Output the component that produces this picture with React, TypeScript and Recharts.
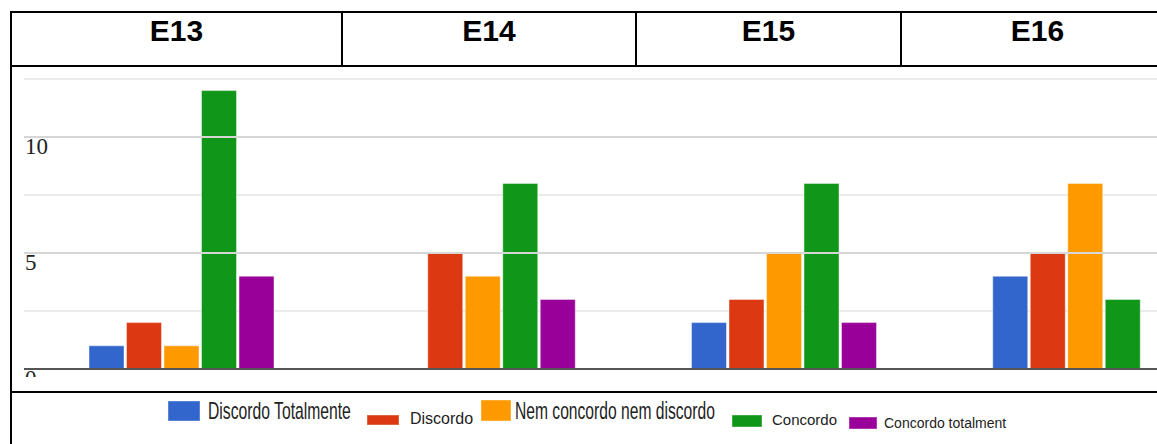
import { Bar, BarChart, CartesianGrid, ReferenceLine, XAxis, YAxis } from "recharts";

const categories = ["E13", "E14", "E15", "E16"];
const seriesNames = [
  "Discordo Totalmente",
  "Discordo",
  "Nem concordo nem discordo",
  "Concordo",
  "Concordo totalment",
];
const discordoTotalmente = [1, 0, 2, 4];
const discordo = [2, 5, 3, 5];
const nemConcordoNemDiscordo = [1, 4, 5, 8];
const concordo = [12, 8, 8, 3];
const concordoTotalmente = [4, 3, 2, 0];
const yTicks = [0, 2.5, 5, 7.5, 10, 12.5];
const yTickLabels = [0, 5, 10];
const yMajorLines = [5, 10];

const seriesValues = [
  discordoTotalmente,
  discordo,
  nemConcordoNemDiscordo,
  concordo,
  concordoTotalmente,
];
const colors = ["#3366cc", "#dc3912", "#ff9900", "#109618", "#990099"];

const data = categories.map((name, i) => {
  const row: Record<string, string | number> = { name };
  seriesValues.forEach((vals, s) => {
    row[`s${s}`] = vals[i];
  });
  return row;
});

// header cell widths (px), legend placement — pasted-table look
const headerWidths = [329, 294, 265, 273];
const legendLayout = [
  { box: [168, 9, 32, 20], x: 208, y: 27, size: 23, sx: 0.683 },
  { box: [367, 23, 32, 10], x: 410, y: 32, size: 16, sx: 1 },
  { box: [481, 8, 30, 21], x: 515, y: 27, size: 23, sx: 0.68 },
  { box: [732, 23, 30, 12], x: 772, y: 33, size: 15, sx: 1 },
  { box: [849, 25, 28, 12], x: 884, y: 36, size: 14, sx: 1 },
];

function YTick(props: any) {
  const { x, y, payload } = props;
  if (!yTickLabels.includes(payload.value)) return null;
  return (
    <text
      x={x + 1}
      y={y + 16.5}
      textAnchor="start"
      fontFamily="'Liberation Serif', serif"
      fontSize={23}
      fill="#222"
    >
      {payload.value}
    </text>
  );
}

export default function App() {
  return (
    <div
      style={{
        position: "absolute",
        left: 0,
        top: 0,
        width: 1157,
        height: 444,
        overflow: "hidden",
        background: "#fff",
      }}
    >
      {/* chart row */}
      <div
        style={{
          position: "absolute",
          left: 0,
          top: 66,
          width: 1157,
          height: 311,
          overflow: "hidden",
        }}
      >
        <BarChart
          width={1236}
          height={330}
          data={data}
          margin={{ top: 13, right: 0, bottom: 27, left: 0 }}
          barSize={35}
          barGap={2.5}
        >
          <CartesianGrid
            vertical={false}
            stroke="#ebebeb"
            strokeWidth={2}
          />
          <XAxis dataKey="name" hide padding={{ left: 7, right: 0 }} />
          <YAxis
            width={24}
            domain={[0, 12.5]}
            ticks={yTicks}
            axisLine={false}
            tickLine={false}
            tickSize={0}
            tickMargin={0}
            tick={<YTick />}
          />
          {yMajorLines.map((v) => (
            <ReferenceLine key={v} y={v} stroke="#d6d6d6" strokeWidth={2} />
          ))}
          {seriesNames.map((n, s) => (
            <Bar
              key={n}
              dataKey={`s${s}`}
              name={n}
              fill={colors[s]}
              stroke="#ffffff"
              strokeOpacity={0.45}
              strokeWidth={1}
              isAnimationActive={false}
            />
          ))}
          <ReferenceLine y={0} stroke="#555" strokeWidth={2} />
        </BarChart>
      </div>

      {/* header row */}
      <div
        style={{
          position: "absolute",
          left: 10,
          top: 11,
          height: 56,
          boxSizing: "border-box",
          border: "2px solid #000",
          borderRight: "none",
          display: "flex",
          fontFamily: "'Liberation Sans', Arial, sans-serif",
          fontWeight: "bold",
          fontSize: 30,
          lineHeight: "30px",
          color: "#000",
        }}
      >
        {categories.map((c, i) => (
          <div
            key={c}
            style={{
              width: headerWidths[i],
              boxSizing: "border-box",
              borderLeft: i === 0 ? "none" : "2px solid #000",
              textAlign: "center",
              paddingTop: 3,
            }}
          >
            {c}
          </div>
        ))}
      </div>

      {/* table lines */}
      <div style={{ position: "absolute", left: 10, top: 60, width: 2, height: 384, background: "#000" }} />
      <div style={{ position: "absolute", left: 10, top: 391, width: 1147, height: 2, background: "#000" }} />

      {/* legend row */}
      <svg
        width={1157}
        height={52}
        style={{ position: "absolute", left: 0, top: 392 }}
      >
        {seriesNames.map((n, s) => {
          const l = legendLayout[s];
          return (
            <g key={n}>
              <rect
                x={l.box[0]}
                y={l.box[1]}
                width={l.box[2]}
                height={l.box[3]}
                fill={colors[s]}
                stroke="#ffffff"
                strokeOpacity={0.4}
              />
              <text
                transform={`translate(${l.x},${l.y}) scale(${l.sx},1)`}
                fontFamily="'Liberation Sans', Arial, sans-serif"
                fontSize={l.size}
                fill="#222"
              >
                {n}
              </text>
            </g>
          );
        })}
      </svg>
    </div>
  );
}
